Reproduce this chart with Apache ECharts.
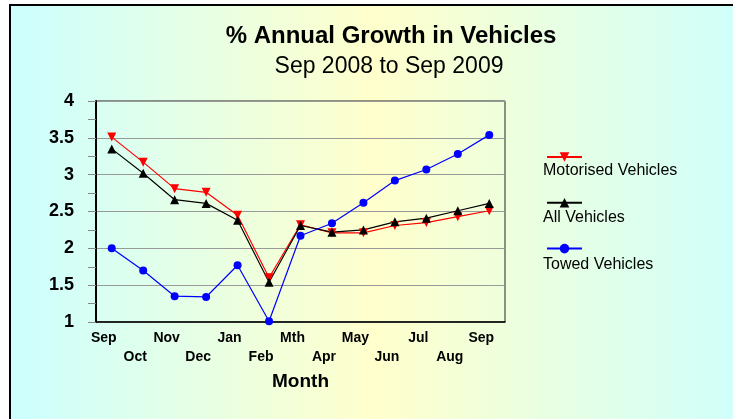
<!DOCTYPE html>
<html>
<head>
<meta charset="utf-8">
<script src="https://cdn.jsdelivr.net/npm/echarts@6/dist/echarts.min.js"></script>
<style>
  html, body { margin: 0; padding: 0; background: #fff; }
  #chart { width: 733px; height: 419px; }
</style>
</head>
<body>
<div id="chart"></div>
<script>
const months = ['Sep', 'Oct', 'Nov', 'Dec', 'Jan', 'Feb', 'Mth', 'Apr', 'May', 'Jun', 'Jul', 'Aug', 'Sep'];
const seriesNames = ['Motorised Vehicles', 'All Vehicles', 'Towed Vehicles'];
const motorised = [3.51, 3.17, 2.81, 2.76, 2.45, 1.60, 2.32, 2.21, 2.21, 2.31, 2.35, 2.43, 2.51];
const allVehicles = [3.35, 3.02, 2.66, 2.61, 2.38, 1.54, 2.31, 2.22, 2.25, 2.36, 2.41, 2.51, 2.61];
const towed = [2.00, 1.70, 1.35, 1.34, 1.77, 1.01, 2.17, 2.34, 2.62, 2.92, 3.07, 3.28, 3.54];

const FONT = '"Liberation Sans", Arial, sans-serif';

const chart = echarts.init(document.getElementById('chart'));

// legend text sits under each legend line in the original, so draw it as plain text
const legendText = seriesNames.map((name, i) => ({
    type: 'text',
    left: 543,
    top: 163 + i * 47,
    z: 10,
    style: { text: name, fontFamily: FONT, fontSize: 16, fill: '#000' }
}));

const option = {
    backgroundColor: '#fff',
    animation: false,
    graphic: [
        {
            type: 'rect',
            z: -10,
            shape: { x: 10, y: 5, width: 760, height: 440 },
            style: {
                fill: new echarts.graphic.LinearGradient(0, 0, 1, 0, [
                    { offset: 0, color: '#ccffff' },
                    { offset: 0.48, color: '#ffffcc' },
                    { offset: 1, color: '#ccffff' }
                ]),
                stroke: '#000',
                lineWidth: 2
            }
        },
        ...legendText
    ],
    title: [
        {
            text: '% Annual Growth in Vehicles',
            left: 386, top: 19, textAlign: 'center',
            textStyle: { fontFamily: FONT, fontSize: 24, fontWeight: 'bold', color: '#000' }
        },
        {
            text: 'Sep 2008 to Sep 2009',
            left: 384, top: 50, textAlign: 'center',
            textStyle: { fontFamily: FONT, fontSize: 23, fontWeight: 'normal', color: '#000' }
        }
    ],
    legend: {
        orient: 'vertical',
        left: 541,
        top: 146,
        itemWidth: 35,
        itemHeight: 12,
        itemGap: 35,
        formatter: () => '',
        textStyle: { fontSize: 10 },
        data: seriesNames
    },
    grid: {
        left: 96, top: 101, right: 228, bottom: 97,
        show: true, borderColor: '#222', borderWidth: 1,
        backgroundColor: 'transparent'
    },
    xAxis: {
        type: 'category',
        data: months,
        boundaryGap: true,
        name: 'Month',
        nameLocation: 'middle',
        nameGap: 48,
        nameTextStyle: { fontFamily: FONT, fontSize: 19, fontWeight: 'bold', color: '#000' },
        axisLine: { lineStyle: { color: '#000', width: 1.5 } },
        axisTick: { alignWithLabel: true, length: 5, lineStyle: { color: '#888' } },
        axisLabel: {
            interval: 0,
            margin: 7,
            lineHeight: 19,
            padding: [0, 16, 0, 0],
            fontFamily: FONT, fontSize: 14, fontWeight: 'bold', color: '#000',
            formatter: (v, i) => (i % 2 ? '\n' + v : v)
        },
        splitLine: { show: false }
    },
    yAxis: {
        type: 'value',
        min: 1, max: 4, interval: 0.5,
        axisLine: { show: true, lineStyle: { color: '#000', width: 2 } },
        axisTick: { show: true, length: 8, lineStyle: { color: '#888' } },
        minorTick: { show: true, splitNumber: 2, length: 8, lineStyle: { color: '#888' } },
        axisLabel: {
            margin: 22,
            fontFamily: FONT, fontSize: 18, fontWeight: 'bold', color: '#000'
        },
        splitLine: { lineStyle: { color: '#999', width: 1 } }
    },
    series: [
        {
            name: seriesNames[0], type: 'line', data: motorised,
            symbol: 'triangle', symbolRotate: 180, symbolSize: 9,
            lineStyle: { color: '#ff0000', width: 1.2 },
            itemStyle: { color: '#ff0000' }
        },
        {
            name: seriesNames[1], type: 'line', data: allVehicles,
            symbol: 'triangle', symbolSize: 9,
            lineStyle: { color: '#000000', width: 1.2 },
            itemStyle: { color: '#000000' }
        },
        {
            name: seriesNames[2], type: 'line', data: towed,
            symbol: 'circle', symbolSize: 8,
            lineStyle: { color: '#0000ff', width: 1.2 },
            itemStyle: { color: '#0000ff' }
        }
    ]
};

chart.setOption(option);
</script>
</body>
</html>
